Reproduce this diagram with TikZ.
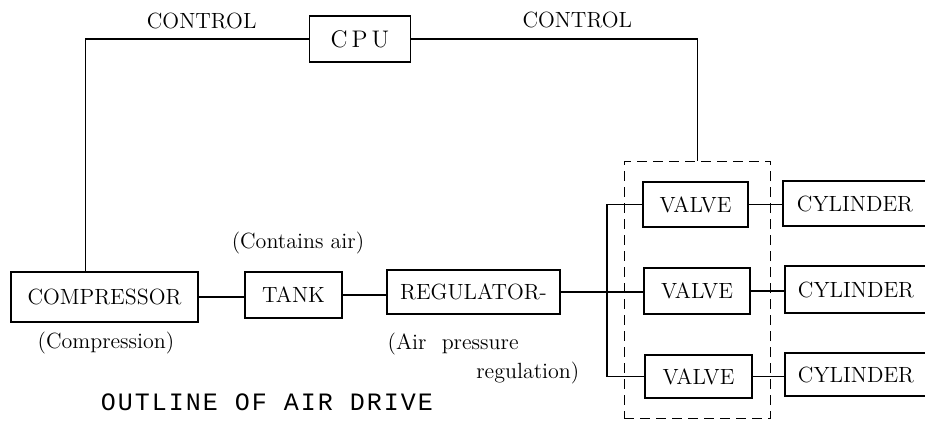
\documentclass[tikz,border=0pt]{standalone}
\usepackage{fontspec}
\newfontfamily\capfont[LetterSpace=8]{Liberation Mono}
\usetikzlibrary{fit,calc}
\tikzset{
    blk/.style={draw,inner sep=0pt,font=\fontsize{11}{13}\selectfont},
    lbl/.style={inner sep=0pt,font=\fontsize{11}{13}\selectfont},
    grpbox/.style={draw,dash pattern=on 5pt off 3pt,inner xsep=9pt,inner ysep=10pt},
}
\begin{document}
\begin{tikzpicture}[x=0.5pt,y=-0.5pt,line width=0.7pt]
    \useasboundingbox (0,0) rectangle (925,421);
    \clip (0,0) rectangle (925,421);
    % upper control unit
    \node[blk,minimum width=50.5pt,minimum height=23pt] (cpu) at (360,39)
        {\fontsize{12}{14}\selectfont C\hspace{2pt}P\hspace{2pt}U};
    % air line
    \node[blk,minimum width=93.5pt,minimum height=25pt] (comp) at (104.5,297) {COMPRESSOR};
    \node[blk,minimum width=48.5pt,minimum height=23pt] (tank) at (293.5,295) {TANK};
    \node[blk,minimum width=86.5pt,minimum height=22pt] (reg) at (473.5,292) {REGULATOR-};
    % valves and cylinders
    \node[blk,minimum width=52.5pt,minimum height=22.5pt] (v1) at (695.5,204.5) {VALVE};
    \node[blk,minimum width=53pt,minimum height=23pt] (v2) at (697,291) {VALVE};
    \node[blk,minimum width=53.5pt,minimum height=21.5pt] (v3) at (698.5,376.5) {VALVE};
    \node[blk,minimum width=72pt,minimum height=22.5pt] (c1) at (855,203.5) {CYLINDER};
    \node[blk,minimum width=71pt,minimum height=23.5pt] (c2) at (856,289.5) {CYLINDER};
    \node[blk,minimum width=71pt,minimum height=21.5pt] (c3) at (856,374.5) {CYLINDER};
    \node[grpbox,fit=(v1)(v3)] (grp) {};
    \coordinate (bus) at (607,291);

    \draw (cpu.west) -| ($(comp.north west)!0.4!(comp.north east)$)
        node[lbl,pos=0.24,above=4.5pt] {CONTROL};
    \draw (cpu.east) -| (grp.north)
        node[lbl,pos=0.29,above=5pt] {CONTROL};
    \draw (comp.east) -- (comp.east -| tank.west);
    \draw (tank.east) -- (tank.east -| reg.west);
    \draw (reg.east) -- (reg.east -| v2.west);
    \draw (v1.west) -| (bus) |- (v3.west);
    \draw (v1.east) -- (v1.east -| c1.west);
    \draw (v2.east) -- (v2.east -| c2.west);
    \draw (v3.east) -- (v3.east -| c3.west);

    \node[lbl] (tanknote) at (298,243) {(Contains air)};
    \node[lbl] (compnote) at (106,343) {(Compression)};
    \node[lbl,anchor=west] (regnote) at (387,344) {(Air\hspace{4pt} pressure};
    \node[lbl,anchor=east] (regnote2) at (580,373) {regulation)};
    \node[inner sep=0pt,font=\capfont\fontsize{12.5}{14}\selectfont] (title) at (267,402)
        {OUTLINE OF AIR DRIVE};
\end{tikzpicture}
\end{document}
